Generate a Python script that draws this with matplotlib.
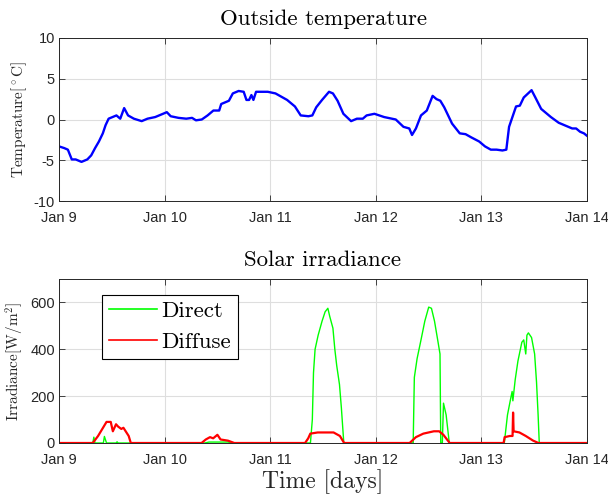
import matplotlib
matplotlib.use("Agg")
import matplotlib.pyplot as plt
import numpy as np

# ---------------- data ----------------
tick_labels = ["Jan 9", "Jan 10", "Jan 11", "Jan 12", "Jan 13", "Jan 14"]

temp_t = [0.000, 0.048, 0.084, 0.121, 0.158, 0.213, 0.268, 0.305, 0.342, 0.378,
          0.415, 0.441, 0.470, 0.507, 0.544, 0.580, 0.617, 0.654, 0.709, 0.783,
          0.838, 0.911, 0.985, 1.021, 1.058, 1.132, 1.205, 1.260, 1.297, 1.352,
          1.407, 1.462, 1.517, 1.536, 1.609, 1.646, 1.701, 1.749, 1.775, 1.800,
          1.822, 1.841, 1.866, 1.977, 2.050, 2.160, 2.234, 2.289, 2.362, 2.399,
          2.436, 2.491, 2.557, 2.594, 2.638, 2.693, 2.766, 2.821, 2.877, 2.913,
          2.987, 3.079, 3.189, 3.262, 3.317, 3.343, 3.380, 3.428, 3.483, 3.538,
          3.575, 3.611, 3.648, 3.722, 3.795, 3.850, 3.905, 3.979, 4.034, 4.089,
          4.144, 4.199, 4.236, 4.262, 4.328, 4.364, 4.401, 4.475, 4.511, 4.566,
          4.658, 4.732, 4.805, 4.860, 4.897, 4.934, 4.971, 5.000]
temp_vals = [-3.3, -3.5, -3.7, -4.9, -4.9, -5.2, -4.9, -4.4, -3.5, -2.7,
             -1.7, -0.7, 0.1, 0.3, 0.5, 0.1, 1.4, 0.5, 0.1, -0.2,
             0.1, 0.3, 0.7, 0.9, 0.4, 0.2, 0.1, 0.2, -0.1, 0.0,
             0.5, 1.1, 1.1, 1.9, 2.3, 3.2, 3.5, 3.4, 2.4, 2.4,
             3.0, 2.4, 3.4, 3.4, 3.2, 2.4, 1.6, 0.5, 0.4, 0.5,
             1.5, 2.4, 3.4, 3.2, 2.3, 0.7, -0.2, 0.1, 0.1, 0.5,
             0.7, 0.3, 0.0, -0.9, -1.1, -1.9, -1.1, 0.5, 1.1, 2.9,
             2.5, 2.3, 1.5, -0.5, -1.7, -1.8, -2.2, -2.7, -3.3, -3.7,
             -3.7, -3.8, -3.7, -0.9, 1.6, 1.7, 2.7, 3.6, 2.7, 1.3,
             0.3, -0.4, -0.8, -1.1, -1.1, -1.5, -1.7, -2.0]

direct_t = [0.00, 0.32, 0.33, 0.34, 0.42, 0.43, 0.45, 0.54, 0.55, 0.56,
            1.38, 1.42, 1.60, 1.64,
            2.381, 2.399, 2.410, 2.425, 2.454, 2.491, 2.520, 2.546, 2.564, 2.594,
            2.612, 2.630, 2.656, 2.674, 2.697,
            3.354, 3.365, 3.391, 3.428, 3.464, 3.501, 3.527, 3.556, 3.586, 3.608,
            3.615, 3.630, 3.641, 3.666, 3.696,
            4.217, 4.247, 4.273, 4.291, 4.298, 4.320, 4.346, 4.383, 4.401, 4.420,
            4.431, 4.445, 4.475, 4.504, 4.522, 4.537, 4.548, 5.00]
direct_vals = [0, 0, 25, 0, 0, 28, 0, 0, 5, 0,
               0, 4, 4, 0,
               0, 100, 300, 400, 460, 520, 560, 575, 540, 490,
               400, 330, 250, 150, 0,
               0, 280, 360, 440, 520, 580, 575, 520, 440, 380,
               0, 0, 170, 120, 0,
               0, 120, 180, 220, 180, 270, 350, 430, 440, 380,
               460, 470, 450, 380, 260, 120, 0, 0]

diffuse_t = [0.00, 0.32, 0.37, 0.41, 0.45, 0.49, 0.51, 0.54, 0.56, 0.59, 0.61, 0.66, 0.68,
             1.35, 1.39, 1.43, 1.46, 1.50, 1.53, 1.60, 1.66,
             2.33, 2.36, 2.38, 2.45, 2.60, 2.66, 2.70,
             3.32, 3.38, 3.45, 3.55, 3.60, 3.64, 3.70,
             4.21, 4.22, 4.27, 4.295, 4.30, 4.305, 4.36, 4.42, 4.49, 4.54, 5.00]
diffuse_vals = [0, 0, 30, 60, 90, 90, 50, 80, 70, 60, 65, 30, 0,
                0, 15, 25, 20, 35, 15, 10, 0,
                0, 20, 40, 45, 45, 30, 0,
                0, 25, 40, 50, 50, 35, 0,
                0, 25, 30, 30, 130, 50, 45, 30, 10, 0, 0]

# ---------------- style ----------------
plt.rcParams["mathtext.fontset"] = "cm"
plt.rcParams["axes.formatter.use_mathtext"] = True
tick_font = ["Liberation Sans", "DejaVu Sans"]
serif = "cmr10"
gray = (0.15, 0.15, 0.15)

fig = plt.figure(figsize=(6.08, 4.95), dpi=100)
ax1 = fig.add_axes([59 / 608, 1 - 201 / 495, 528 / 608, 163 / 495])
ax2 = fig.add_axes([59 / 608, 1 - 443 / 495, 528 / 608, 164 / 495])

def style(ax):
    ax.set_xlim(0, 5)
    ax.set_xticks(range(6))
    ax.set_xticklabels(tick_labels)
    ax.grid(True, color=(0.87, 0.87, 0.87), lw=0.8)
    ax.set_axisbelow(True)
    ax.tick_params(direction="in", length=4, width=0.6, colors=gray,
                   labelsize=10.5, top=True, right=True)
    ax.tick_params(axis="x", pad=7)
    ax.tick_params(axis="y", pad=3)
    for lab in ax.get_xticklabels() + ax.get_yticklabels():
        lab.set_family(tick_font)
    for s in ax.spines.values():
        s.set_color(gray)
        s.set_linewidth(0.7)

ax1.plot(temp_t, temp_vals, color=(0, 0, 1), lw=1.7)
ax1.set_ylim(-10, 10)
ax1.set_yticks([-10, -5, 0, 5, 10])
ax1.set_yticklabels(["-10", "-5", "0", "5", "10"])
style(ax1)
ax1.set_title("Outside temperature", fontfamily=serif, fontsize=16.5, pad=9)
ax1.set_ylabel(r"Temperature$[^\circ\mathrm{C}]$", fontfamily=serif, fontsize=11,
               color=gray, labelpad=3)

ax2.plot(direct_t, direct_vals, color=(0, 1, 0), lw=1.0, label="Direct")
ax2.plot(diffuse_t, diffuse_vals, color=(1, 0, 0), lw=1.6, label="Diffuse")
ax2.set_ylim(0, 700)
ax2.set_yticks([0, 200, 400, 600])
ax2.set_yticklabels(["0", "200", "400", "600"])
style(ax2)
ax2.set_title("Solar irradiance", fontfamily=serif, fontsize=16.5, pad=9)
ax2.set_ylabel(r"Irradiance$[\mathrm{W/m}^2]$", fontfamily=serif, fontsize=11,
               color=gray, labelpad=3)
ax2.set_xlabel("Time [days]", fontfamily=serif, fontsize=17, color=gray, labelpad=2)
leg = ax2.legend(loc="upper left", bbox_to_anchor=(0.081, 0.905),
                 prop={"family": serif, "size": 16.5},
                 frameon=True, fancybox=False, edgecolor="black", handlelength=2.1,
                 borderpad=0.3, labelspacing=0.45, handletextpad=0.2, borderaxespad=0,
                 framealpha=1)
leg.get_frame().set_linewidth(0.8)
for h in leg.get_lines():
    h.set_linewidth(1.2)

fig.savefig("out.png", dpi=100)
